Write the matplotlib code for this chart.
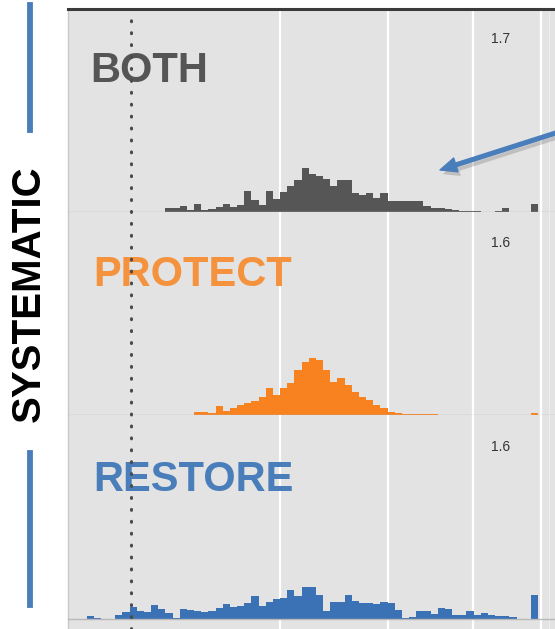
"""
Три гистограммы (BOTH / PROTECT / RESTORE) друг под другом, подпись SYSTEMATIC слева
"""
import matplotlib
matplotlib.use('Agg')
import matplotlib.pyplot as plt
import matplotlib.patheffects as pe
from matplotlib.lines import Line2D
import numpy as np

plt.rcParams['font.family'] = ['Liberation Sans', 'DejaVu Sans']

# 63 одинаковых бина (в единицах номера бина)
n_bins = 63
bin_edges = np.arange(n_bins + 1)

both = [0] * 11 + [4, 4, 6, 2, 8, 2, 3, 5, 8, 5,
                   7, 21, 12, 7, 21, 13, 20, 26, 32, 44,
                   38, 36, 33, 26, 32, 32, 19, 17, 19, 14,
                   19, 11, 11, 11, 11, 11, 6, 4, 4, 3,
                   2, 1, 1, 1, 0.5, 0, 1, 4, 0, 0,
                   0, 8]
protect = [0] * 15 + [3, 3, 2, 9, 4, 7, 10, 12, 14, 18,
                      27, 20, 27, 32, 45, 53, 57, 55, 45, 33,
                      37, 30, 23, 18, 15, 10, 7, 3, 2, 1,
                      1, 1, 1, 1, 0.5, 0.5, 0.5] + [0] * 10 + [2]
restore = [3, 1, 0.5, 0.5, 4, 7, 12, 8, 7, 14,
           10, 6, 1, 10, 9, 8, 7, 8, 11, 15,
           12, 13, 16, 23, 13, 17, 20, 21, 29, 23,
           32, 32, 24, 8, 17, 17, 24, 18, 16, 16,
           15, 17, 16, 9, 1, 2, 8, 8, 5, 11,
           10, 4, 4, 8, 4, 6, 4, 3, 3, 2,
           0.5, 0.5, 24]

panel_names = ['BOTH', 'PROTECT', 'RESTORE']
panel_values = ['1.7', '1.6', '1.6']
series = [both, protect, restore]
text_colors = ['#555555', '#f5923e', '#4a7ebb']
bar_colors = ['#565656', '#f7821f', '#3b72b6']

grid_x = [27.0, 42.1, 53.9, 63.4, 64.5]
ref_x = 6.2
x_range = (-2.6, 65.5)

W, H = 555, 629
fig = plt.figure(figsize=(W / 100, H / 100), dpi=100, facecolor='white')

# панели в пикселях: (верх, базовая линия, низ)
panels = [(9, 212, 212), (212, 415, 415), (415, 619, 629)]
left_px, right_px = 68, 556

axes = []
for i, (top, base, bottom) in enumerate(panels):
    ax = fig.add_axes([left_px / W, 1 - bottom / H, (right_px - left_px) / W, (bottom - top) / H])
    ax.set_facecolor('#e3e3e3')
    ax.set_xlim(*x_range)
    ax.set_ylim(base - bottom, base - top)
    for gx in grid_x[:-1]:
        ax.axvline(gx, color='white', lw=1.6, zorder=1)
    ax.axvline(grid_x[-1], color='#eeeeee', lw=0.8, zorder=1)
    ax.stairs(series[i], bin_edges, fill=True, color=bar_colors[i], zorder=2)
    ax.axhline(0, color='#b8b8b8', lw=1.0, zorder=3)
    ax.set_xticks([])
    ax.set_yticks([])
    for s in ['right', 'bottom', 'top']:
        ax.spines[s].set_visible(False)
    ax.spines['left'].set_color('#c8c8c8')
    ax.spines['left'].set_linewidth(1.0)
    h = bottom - top
    ax.text(0.045 if i == 0 else 0.052, 1 - (73 + i * 1.5) / h, panel_names[i],
            transform=ax.transAxes, fontsize=30, fontweight='bold',
            color=text_colors[i], ha='left', va='baseline', zorder=5)
    ax.text(0.886, 1 - (34 + i) / h, panel_values[i], transform=ax.transAxes,
            fontsize=10, color='#333333', ha='center', va='baseline', zorder=5)
    axes.append(ax)

axes[0].spines['top'].set_visible(True)
axes[0].spines['top'].set_color('#3a3a3a')
axes[0].spines['top'].set_linewidth(2.2)

# общая пунктирная линия через все панели
ax_all = fig.add_axes([left_px / W, 0, (right_px - left_px) / W, 1 - 11 / H])
ax_all.set_xlim(*x_range)
ax_all.set_ylim(0, 1)
ax_all.axis('off')
ax_all.axvline(ref_x, color='#4a4a4a', lw=2.2, linestyle=(0, (0.3, 3.6)),
               dash_capstyle='round', zorder=6)

# стрелка
ax_all.annotate('', xy=(440 / W, 1 - 170 / H), xycoords='figure fraction',
                xytext=(562 / W, 1 - 131 / H), textcoords='figure fraction',
                arrowprops=dict(arrowstyle='simple,head_length=0.75,head_width=0.65,tail_width=0.17',
                                color='#4a7ebb', mutation_scale=16, shrinkA=0, shrinkB=0,
                                path_effects=[pe.SimplePatchShadow(offset=(2, -3), alpha=0.25,
                                                                   shadow_rgbFace='#555555'),
                                              pe.Normal()]),
                annotation_clip=False)

# подпись слева и синие линии
fig.text(29 / W, 1 - 294 / H, 'SYSTEMATIC', rotation=90, fontsize=29,
         fontweight='bold', color='black', ha='center', va='center')
for y0, y1 in [(5, 130), (453, 605)]:
    fig.add_artist(Line2D([30 / W, 30 / W], [1 - y0 / H, 1 - y1 / H],
                          transform=fig.transFigure, color='#4a7ebb', lw=4.2))

fig.savefig('out.png', dpi=100, facecolor='white')
plt.close(fig)
